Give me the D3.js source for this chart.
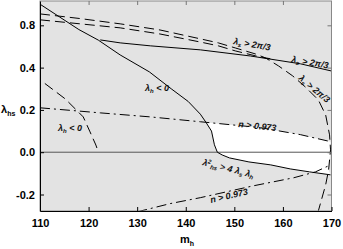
<!DOCTYPE html>
<html>
<head>
<meta charset="utf-8">
<script src="https://cdn.jsdelivr.net/npm/d3@7"></script>
<style>
  body { margin: 0; background: #fff; }
  svg text { font-family: "Liberation Sans", Arial, sans-serif; }
  .tick text { font-weight: bold; font-size: 11px; fill: #000; }
  .lbl { font-size: 9px; font-weight: bold; font-style: italic; fill: #111; }
</style>
</head>
<body>
<div class="chartHolder"></div>
<script>
// values (m_h, lambda_hs)
const curveM  = [110, 114, 118, 122, 126.5, 132.5, 137, 140.5, 143, 144.2, 145.3, 145.9, 146.5, 147.5, 149, 153, 157.5, 161.5, 165.5, 169.8]
const curveL  = [0.70, 0.64, 0.58, 0.53, 0.46, 0.38, 0.30, 0.24, 0.18, 0.14, 0.10, 0.035, 0, -0.013, -0.027, -0.046, -0.06, -0.079, -0.093, -0.107]
const solid2M = [122.4, 126.5, 132.7, 143, 153.3, 163.6, 170]
const solid2L = [0.531, 0.517, 0.503, 0.484, 0.455, 0.418, 0.384]
const dashAM  = [110, 118.25, 126.5, 134.7, 143, 146.7, 150.2, 154.3, 156.4, 159.1, 162, 164.6, 167.3, 168.8, 169.6, 169.8, 169.4, 168.8, 167.3]
const dashAL  = [0.654, 0.632, 0.607, 0.578, 0.536, 0.517, 0.493, 0.465, 0.446, 0.408, 0.361, 0.309, 0.247, 0.176, 0.082, 0.011, -0.084, -0.154, -0.277]
const dashBM  = [110, 118.25, 126.5, 134.7, 143, 146.7, 150.2, 154.3, 156.4, 157.4]
const dashBL  = [0.626, 0.607, 0.588, 0.559, 0.521, 0.503, 0.479, 0.456, 0.446, 0.442]
const dashCM  = [111.0, 115.2, 118.9, 120.3, 121.5, 122.0]
const dashCL  = [0.325, 0.252, 0.167, 0.096, 0.034, 0.001]
const nUpM    = [110, 122.4, 132.7, 143, 155.4, 163.6, 169.8]
const nUpL    = [0.210, 0.186, 0.167, 0.144, 0.116, 0.083, 0.050]
const nLoM    = [130, 136.8, 143, 153.9, 162.2, 166.7, 169.8]
const nLoL    = [-0.282, -0.243, -0.215, -0.159, -0.121, -0.093, -0.060]

const xTicks = [110, 120, 130, 140, 150, 160, 170]
const yTicks = [-0.2, 0, 0.2, 0.4, 0.6]
const yTickLabels = ['-0.2', '0.0', '0.2', '0.4', '0.8']

const width = 343, height = 249
const margin = { top: 1, right: 12, bottom: 38, left: 40 }

const x = d3.scaleLinear().domain([110, 170]).range([margin.left, width - margin.right + 0.5])
const y = d3.scaleLinear().domain([-0.278, 0.715]).range([height - margin.bottom, margin.top])

const svg = d3.select('.chartHolder').append('svg')
  .attr('width', width)
  .attr('height', height)

const pw = x(170) - x(110), ph = y(-0.278) - y(0.715)

svg.append('defs').append('clipPath').attr('id', 'clip')
  .append('rect').attr('x', x(110)).attr('y', y(0.715)).attr('width', pw).attr('height', ph)

svg.append('rect')
  .attr('x', x(110)).attr('y', y(0.715)).attr('width', pw).attr('height', ph)
  .attr('fill', '#e3e3e3')

const zip = (ms, ls) => ms.map((m, i) => [m, ls[i]])
const line = d3.line().x(d => x(d[0])).y(d => y(d[1]))

const plot = svg.append('g').attr('clip-path', 'url(#clip)')

// white allowed region
var region = zip(curveM, curveL).filter(d => d[0] >= 144.2)
region = region.concat(zip(dashAM, dashAL).filter(d => d[1] > -0.107 && d[1] < 0.05).reverse())
region = region.concat(zip(nUpM, nUpL).filter(d => d[0] > 144.2).reverse())
plot.append('path')
  .attr('d', line(region) + 'Z')
  .attr('fill', '#fff')

// zero line
plot.append('line')
  .attr('x1', x(110)).attr('x2', x(170)).attr('y1', y(0)).attr('y2', y(0))
  .attr('stroke', '#555').attr('stroke-width', 1)

const curves = [
  { m: curveM, l: curveL, dash: null },
  { m: solid2M, l: solid2L, dash: null },
  { m: dashAM, l: dashAL, dash: '10,5' },
  { m: dashBM, l: dashBL, dash: '10,5' },
  { m: dashCM, l: dashCL, dash: '10,5' },
  { m: nUpM, l: nUpL, dash: '10,4,2,4' },
  { m: nLoM, l: nLoL, dash: '10,4,2,4' }
]

plot.selectAll('path.curve')
  .data(curves)
  .enter()
  .append('path')
  .attr('class', 'curve')
  .attr('d', d => line(zip(d.m, d.l)))
  .attr('fill', 'none')
  .attr('stroke', '#000')
  .attr('stroke-width', 1)
  .attr('stroke-dasharray', d => d.dash)

// frame (top/right grey)
svg.append('rect')
  .attr('x', x(110)).attr('y', y(0.715)).attr('width', pw).attr('height', ph)
  .attr('fill', 'none').attr('stroke', '#888')

const xAxis = d3.axisBottom(x).tickValues(xTicks).tickFormat(d3.format('d'))
  .tickSizeInner(-4).tickSizeOuter(0).tickPadding(8)
const yAxis = d3.axisLeft(y).tickValues(yTicks).tickFormat((d, i) => yTickLabels[i])
  .tickSizeInner(-4).tickSizeOuter(0).tickPadding(5)

svg.append('g')
  .attr('transform', `translate(0,${y(-0.278)})`)
  .call(xAxis)
  .call(g => g.select('.domain').attr('stroke', '#000'))
svg.append('g')
  .attr('transform', `translate(${x(110)},0)`)
  .call(yAxis)
  .call(g => g.select('.domain').attr('stroke', '#000'))

// inner ticks on top and right
svg.append('g')
  .attr('transform', `translate(0,${y(0.715)})`)
  .call(d3.axisTop(x).tickValues(xTicks.slice(1, -1)).tickSizeInner(-4).tickSizeOuter(0).tickFormat(''))
  .call(g => g.select('.domain').remove())
  .call(g => g.selectAll('line').attr('stroke', '#777'))
svg.append('g')
  .attr('transform', `translate(${x(170)},0)`)
  .call(d3.axisRight(y).tickValues(yTicks).tickSizeInner(-4).tickSizeOuter(0).tickFormat(''))
  .call(g => g.select('.domain').remove())
  .call(g => g.selectAll('line').attr('stroke', '#777'))

// axis titles
const yt = svg.append('text').attr('x', 1).attr('y', 113)
  .style('font-size', '11px').style('font-weight', 'bold')
yt.append('tspan').text('λ')
yt.append('tspan').attr('dy', 3).style('font-size', '7px').text('hs')

const xt = svg.append('text').attr('x', 180).attr('y', 243)
  .style('font-size', '11px').style('font-weight', 'bold')
xt.append('tspan').text('m')
xt.append('tspan').attr('dy', 3).style('font-size', '7px').text('h')

// in-plot labels; parts: [text, level] with level '' (base), 'sub' or 'sup'
const levels = { '': 0, sub: 2, sup: -3 }
const addLabel = (px, py, rot, parts) => {
  const t = svg.append('text').attr('class', 'lbl')
    .attr('transform', `translate(${px},${py}) rotate(${rot})`)
  var cur = 0
  parts.forEach(p => {
    const lv = levels[p[1] || '']
    const s = t.append('tspan').attr('dy', lv - cur).text(p[0])
    if (lv !== 0) s.style('font-size', '6px')
    cur = lv
  })
}
addLabel(145, 91, 0, [['λ'], ['h', 'sub'], [' < 0']])
addLabel(58, 131, 0, [['λ'], ['h', 'sub'], [' < 0']])
addLabel(233, 44, 10, [['λ'], ['s', 'sub'], [' > 2π/3']])
addLabel(291, 62, 10, [['λ'], ['s', 'sub'], [' > 2π/3']])
addLabel(298, 79, 40, [['λ'], ['s', 'sub'], [' > 2π/3']])
addLabel(238, 127, 6, [['n > 0.973']])
addLabel(211, 203, -13, [['n > 0.973']])
addLabel(202, 165, 14, [['λ'], ['2', 'sup'], ['hs', 'sub'], [' > 4 λ'], ['s', 'sub'], [' λ'], ['h', 'sub']])
</script>
</body>
</html>
